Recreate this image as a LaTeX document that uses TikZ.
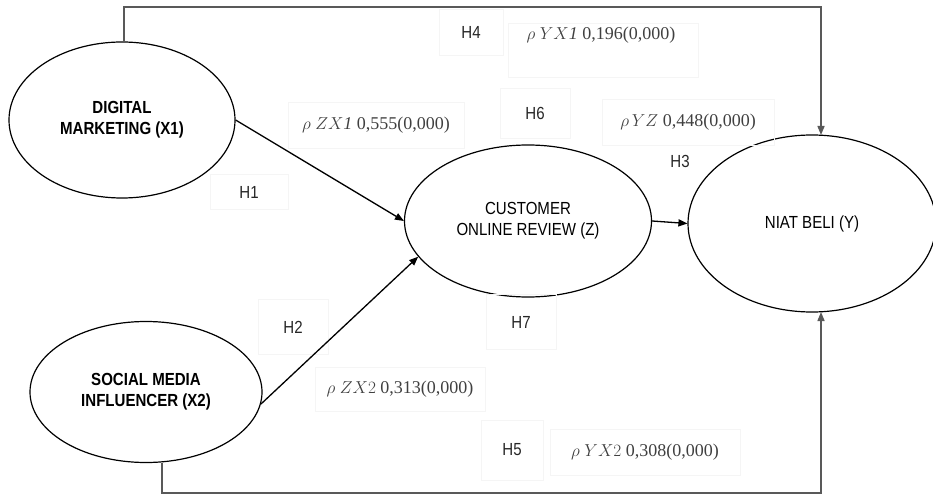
\documentclass[tikz,border=0pt]{standalone}
\usepackage{fontspec}
\setmainfont{Liberation Serif}
\newfontfamily\narrowsans[FakeStretch=0.86]{Liberation Sans}
\usetikzlibrary{shapes.geometric,arrows.meta}
\begin{document}
\begin{tikzpicture}[x=1pt,y=-1pt,
  var/.style={ellipse,draw=black,line width=1.2pt,inner sep=0pt,align=center,
    font=\narrowsans\fontsize{17.5}{21}\selectfont},
  hlab/.style={draw=black!4,line width=0.4pt,inner sep=0pt,text=black!85,
    font=\narrowsans\fontsize{17.5}{21}\selectfont},
  rlab/.style={draw=black!4,line width=0.4pt,inner sep=0pt,text=black!75,
    font=\fontsize{18}{21}\selectfont},
  conn/.style={line width=1.3pt,-{Triangle[length=9pt,width=7pt]}},
  side/.style={draw=black!65,line width=1.5pt,-{Triangle[length=9pt,width=7pt]}}]
\useasboundingbox (0,0) rectangle (933,494);

\node[var,minimum width=226pt,minimum height=156pt] (dm) at (122,120)
  {\bfseries DIGITAL\\\bfseries MARKETING (X1)};
\node[var,minimum width=232pt,minimum height=141pt] (smi) at (146,392)
  {\bfseries SOCIAL MEDIA\\\bfseries INFLUENCER (X2)};
\node[var,minimum width=247pt,minimum height=152pt] (cor) at (528,221)
  {CUSTOMER\\ONLINE REVIEW (Z)};
\node[var,minimum width=248pt,minimum height=177pt] (nb) at (812,223.5)
  {NIAT BELI (Y)};

\coordinate (tl) at (124,7);
\coordinate (tr) at (821,7);
\coordinate (bl) at (162,493);
\coordinate (br) at (821,493);
\coordinate (ntop) at (821,135);
\coordinate (nbot) at (821,312);

% labels
\node[hlab,minimum width=64pt,minimum height=46pt] (h4) at (471,32) {H4};
\node[rlab,minimum width=190pt,minimum height=54pt] (r4) at (603,50) {};
\node[rlab,draw=none] (r4t) at (601,35) {$\rho\ YX\mathit{1}$ 0,196(0,000)};
\node[hlab,minimum width=70pt,minimum height=50pt] (h6) at (535,113) {H6};
\node[rlab,minimum width=172pt,minimum height=46pt] (r6) at (688,122) {$\rho\,YZ$ 0,448(0,000)};
\node[hlab,draw=none] (h3) at (680,161) {H3};
\node[rlab,minimum width=176pt,minimum height=46pt] (r1) at (376,125) {$\rho\ ZX\mathit{1}$ 0,555(0,000)};
\node[hlab,minimum width=78pt,minimum height=35pt] (h1) at (249,192) {H1};
\node[hlab,minimum width=70pt,minimum height=55pt] (h2) at (293,327) {H2};
\node[rlab,minimum width=170pt,minimum height=44pt] (r2) at (400,389) {$\rho\ ZX2$ 0,313(0,000)};
\node[hlab,minimum width=70pt,minimum height=55pt] (h7) at (521,322) {H7};
\node[hlab,minimum width=62pt,minimum height=60pt] (h5) at (512,450) {H5};
\node[rlab,minimum width=190pt,minimum height=46pt] (r5) at (645,452) {$\rho\ YX2$ 0,308(0,000)};

% connectors
\draw[conn] (dm.east) -- (cor.west);
\draw[conn] (smi.-6) -- (cor.198);
\draw[conn] (cor.east) -- (nb.west);
\draw[side] (dm.north -| tl) -- (tl) -- (tr) -- (ntop);
\draw[side] (smi.south -| bl) -- (bl) -- (br) -- (nbot);
\end{tikzpicture}
\end{document}
